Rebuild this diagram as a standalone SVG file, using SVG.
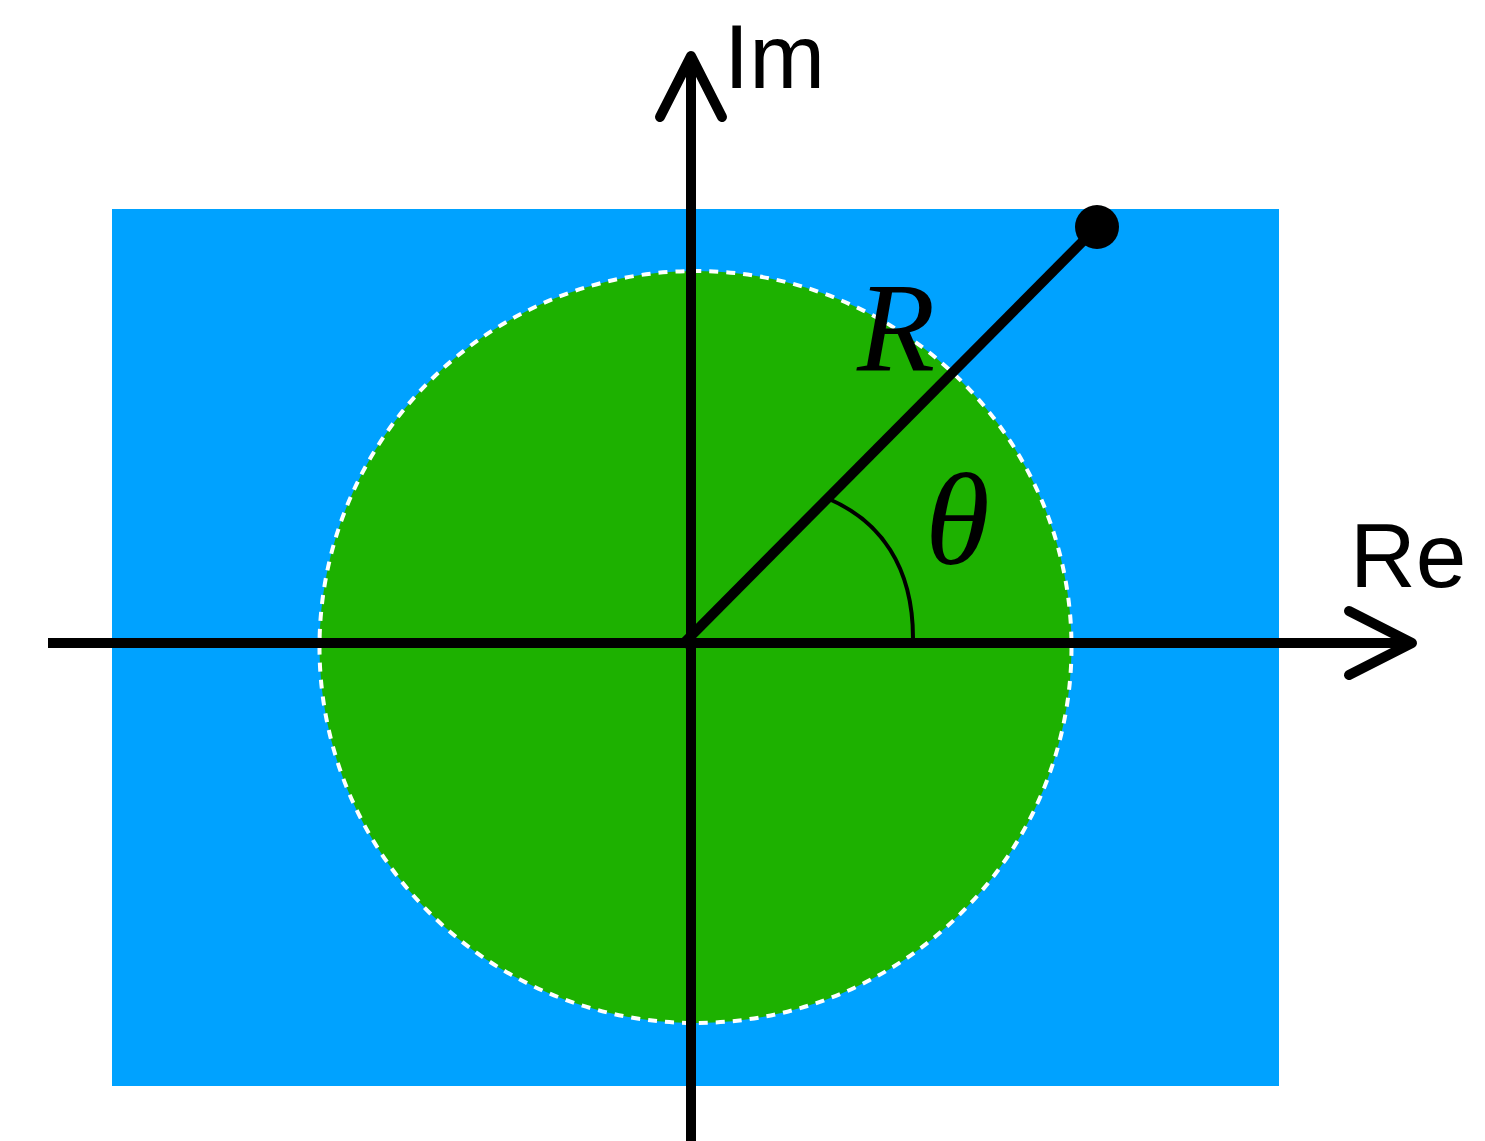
<svg xmlns="http://www.w3.org/2000/svg" width="1485" height="1141" viewBox="0 0 1485 1141">
<style>
.ax{stroke:#000;stroke-width:10;fill:none;stroke-linecap:round;stroke-linejoin:round}
.lbl{font-family:"Liberation Sans",Arial,sans-serif;fill:#000}
.math{font-family:"Liberation Serif","Times New Roman",serif;font-style:italic;fill:#000}
</style>
<rect width="1485" height="1141" fill="#fff"/>
<g id="region">
<rect x="112" y="209" width="1167" height="877" fill="#00A2FF"/>
<circle cx="695.5" cy="647" r="376" fill="#1DB100" stroke="#fff" stroke-width="4" stroke-dasharray="9 8"/>
</g>
<g id="connectors">
<line x1="48" y1="643" x2="1412" y2="643" stroke="#000" stroke-width="10"/>
<polyline class="ax" points="1349,611 1412,643 1349,675"/>
<line x1="691" y1="1141" x2="691" y2="56" stroke="#000" stroke-width="10"/>
<polyline class="ax" points="660,117 691,56 722,117"/>
<line x1="682" y1="645" x2="1097" y2="227" stroke="#000" stroke-width="10"/>
<path d="M829 499 C880 521 913 566 913 638" fill="none" stroke="#000" stroke-width="4"/>
</g>
<g id="point"><circle cx="1097" cy="227" r="22" fill="#000"/></g>
<g id="labels">
<text class="lbl" x="724" y="88" font-size="91">Im</text>
<text class="lbl" x="1350" y="587" font-size="91">Re</text>
<text class="math" x="857" y="371" font-size="128">R</text>
<text class="math" x="925" y="564" font-size="132">θ</text>
</g>
</svg>
